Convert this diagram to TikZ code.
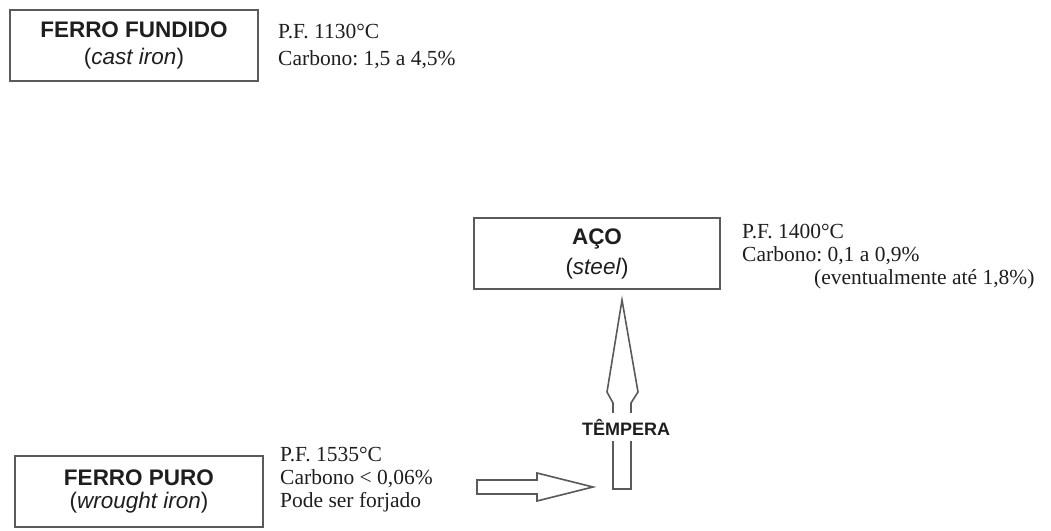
\documentclass[tikz,border=0pt]{standalone}
\usepackage{fontspec}
\setmainfont{Liberation Serif}
\setsansfont{Liberation Sans}
\usetikzlibrary{positioning,calc}
\definecolor{edge}{HTML}{5A5A5A}
\definecolor{ink}{HTML}{1E1E1E}
\frenchspacing
\tikzset{box/.style={draw=edge,line width=2pt,minimum width=248pt,minimum height=71pt,align=center,font=\sffamily\fontsize{22.5}{27}\selectfont,text=ink,inner sep=0pt},info/.style={anchor=west,align=left,font=\fontsize{21.5}{23}\selectfont,text=ink,inner sep=0pt},hollow/.style={draw=edge,line width=1.6pt,fill=white,line join=miter}}
\begin{document}
\begin{tikzpicture}[x=1pt,y=-1pt]
\useasboundingbox (0,0) rectangle (1051,530);
\node[box] (ff) at (134,45) {\textbf{FERRO FUNDIDO}\\(\textit{cast iron})};
\node[info,font=\fontsize{21.5}{27}\selectfont] (ffinfo) at (278,47) {P.F. 1130°C\\Carbono: 1,5 a 4,5\%};
\node[box,minimum width=246pt] (aco) at (597,253.5) {\textbf{AÇO}\\[3pt](\textit{steel})};
\node[info] (acoinfo) at (742,257) {P.F. 1400°C\\Carbono: 0,1 a 0,9\%\\\hspace*{72pt}(eventualmente até 1,8\%)};
\node[box] (fp) at (139,491.5) {\textbf{FERRO PURO}\\[-4pt](\textit{wrought iron})};
\node[info] (fpinfo) at (280,480) {P.F. 1535°C\\Carbono < 0,06\%\\Pode ser forjado};
% setas ocas
\coordinate (htip) at (593,487);
\coordinate (vtip) at (622,300);
\draw[hollow] (477,480) -- (537,480) -- (537,473) -- (htip) -- (537,501) -- (537,494) -- (477,494) -- cycle;
\draw[hollow] (613,489) -- (613,403) -- (607,392) -- (vtip) -- (638,392) -- (631,403) -- (631,489) -- cycle;
\node[fill=white,inner xsep=1pt,inner ysep=6pt,font=\sffamily\bfseries\fontsize{18}{20}\selectfont,text=ink] (temp) at (626,427) {TÊMPERA};
\end{tikzpicture}
\end{document}
